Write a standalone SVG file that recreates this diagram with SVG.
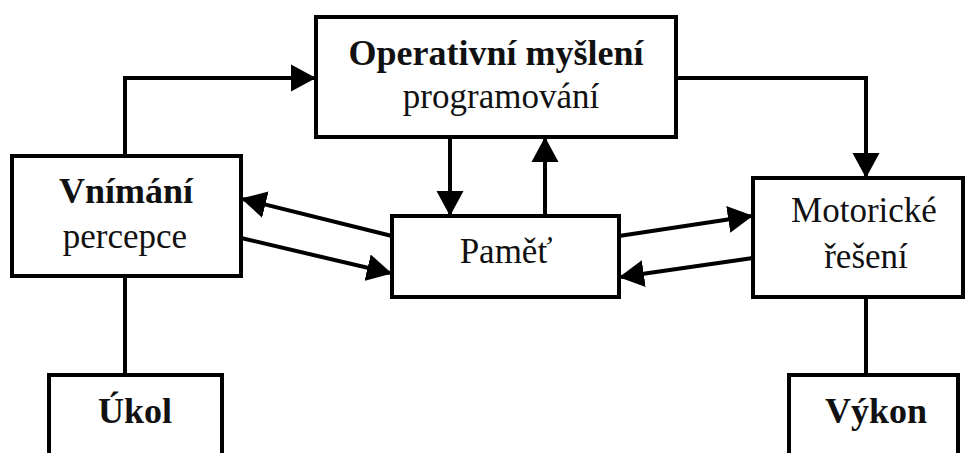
<svg xmlns="http://www.w3.org/2000/svg" width="966" height="453" viewBox="0 0 966 453">
<defs>
<marker id="ah" markerUnits="userSpaceOnUse" markerWidth="25" markerHeight="28" refX="23" refY="13.5" orient="auto" viewBox="0 0 25 27">
<path d="M0,0 L25,13.5 L0,27 z" fill="#000"/>
</marker>
<style>
.box{fill:#fff;stroke:#000;stroke-width:4}
.ln{fill:none;stroke:#000;stroke-width:4}
.ar{fill:none;stroke:#000;stroke-width:4;marker-end:url(#ah)}
text{font-family:"Liberation Serif","Times New Roman",serif;font-size:35px;fill:#111;text-anchor:middle}
.b{font-weight:bold;font-size:36px}
</style>
</defs>
<rect width="966" height="453" fill="#fff"/>
<g id="connectors">
<polyline class="ar" points="125,156 125,78 314,78"/>
<polyline class="ar" points="676,78 866,78 866,176"/>
<line class="ar" x1="450" y1="137" x2="450" y2="214"/>
<line class="ar" x1="545" y1="216" x2="545" y2="139"/>
<line class="ar" x1="392" y1="236" x2="243" y2="199"/>
<line class="ar" x1="241" y1="238" x2="390" y2="273"/>
<line class="ar" x1="619" y1="236" x2="751" y2="216"/>
<line class="ar" x1="753" y1="258" x2="621" y2="277"/>
<line class="ln" x1="125" y1="276" x2="125" y2="375"/>
<line class="ln" x1="866" y1="297" x2="866" y2="375"/>
</g>
<g id="operativni">
<rect class="box" x="316" y="17" width="360" height="120"/>
<text class="b" x="496" y="65">Operativní myšlení</text>
<text x="501" y="108">programování</text>
</g>
<g id="vnimani">
<rect class="box" x="12" y="156" width="229" height="120"/>
<text class="b" x="126" y="203">Vnímání</text>
<text x="125" y="248">percepce</text>
</g>
<g id="pamet">
<rect class="box" x="392" y="216" width="227" height="81"/>
<text x="506" y="263">Paměť</text>
</g>
<g id="motoricke">
<rect class="box" x="753" y="178" width="210" height="119"/>
<text x="864" y="222">Motorické</text>
<text x="866" y="268">řešení</text>
</g>
<g id="ukol">
<rect class="box" x="49" y="375" width="173" height="90"/>
<text class="b" x="135" y="423">Úkol</text>
</g>
<g id="vykon">
<rect class="box" x="789" y="375" width="169" height="90"/>
<text class="b" x="876" y="423">Výkon</text>
</g>
</svg>
